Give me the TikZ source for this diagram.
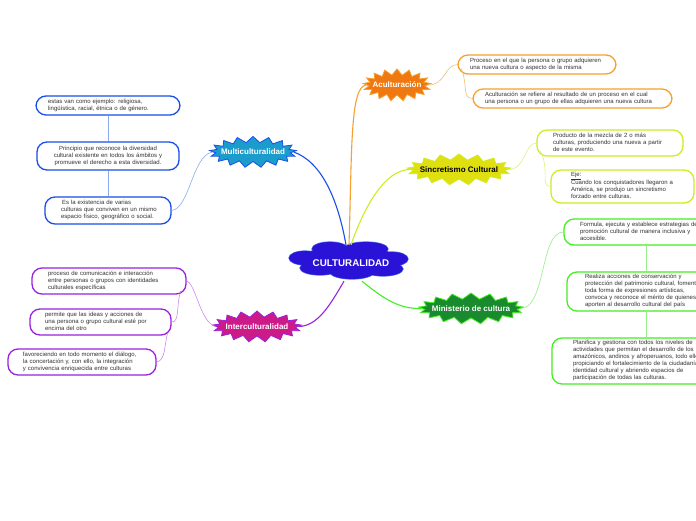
\documentclass[tikz,border=0pt]{standalone}
\usepackage{fontspec}
\setmainfont{Liberation Sans}
\usetikzlibrary{shapes.symbols}
\definecolor{cCloud}{RGB}{42,18,214}
\definecolor{cCloudO}{RGB}{70,110,230}
\definecolor{cMulti}{RGB}{26,156,204}
\definecolor{cMultiO}{RGB}{26,78,232}
\definecolor{cAcul}{RGB}{240,120,16}
\definecolor{cAculO}{RGB}{245,160,48}
\definecolor{cSinc}{RGB}{224,224,16}
\definecolor{cSincO}{RGB}{204,238,34}
\definecolor{cMin}{RGB}{26,138,46}
\definecolor{cMinO}{RGB}{68,238,34}
\definecolor{cInter}{RGB}{204,26,136}
\definecolor{cInterO}{RGB}{153,34,221}
\definecolor{lBlue}{RGB}{140,170,240}
\definecolor{lOrange}{RGB}{245,192,112}
\definecolor{lYellow}{RGB}{224,240,128}
\definecolor{lGreen}{RGB}{150,238,136}
\definecolor{lPurple}{RGB}{204,136,238}
\definecolor{txt}{RGB}{50,50,50}
\newcommand{\leftlines}[1]{\begin{tabular}{@{}l@{}}#1\end{tabular}}
\newcommand{\centerlines}[1]{\begin{tabular}{@{}c@{}}#1\end{tabular}}
\begin{document}
\begin{tikzpicture}[x=1pt,y=-1pt,
  burst/.style={starburst, starburst points=17, starburst point height=6pt, random starburst=0,
     line width=0.8pt, inner sep=0pt},
  blabel/.style={font=\fontsize{8}{9}\selectfont\bfseries, text=white, inner sep=0pt},
  leaf/.style={rounded corners=10pt, line width=1.3pt, fill=white, text=txt,
     font=\fontsize{6}{7}\selectfont, align=left, inner ysep=0pt},
  main/.style={line width=1.1pt},
  sub/.style={line width=0.6pt}
]
\useasboundingbox (0,0) rectangle (696,520);
\clip (0,0) rectangle (696,520);
\fill[white] (0,0) rectangle (696,520);

% central cloud
\foreach \cx/\cy/\rx/\ry in {330/249/18/7, 366/249/22/7, 305/258/16/7, 392/259/16/7, 320/268/20/7, 352/272/22/7, 383/269/20/7, 349/260/48/14}
  \draw[cCloudO, line width=1.2pt] (\cx,\cy) ellipse [x radius=\rx, y radius=\ry];
\foreach \cx/\cy/\rx/\ry in {330/249/18/7, 366/249/22/7, 305/258/16/7, 392/259/16/7, 320/268/20/7, 352/272/22/7, 383/269/20/7, 349/260/48/14}
  \fill[cCloud] (\cx,\cy) ellipse [x radius=\rx, y radius=\ry];
\node[text=white, font=\fontsize{9.8}{11}\selectfont\bfseries, inner sep=0pt,
      minimum width=116pt, minimum height=36pt] (cult) at (351,263) {CULTURALIDAD};

% main topics
\node[burst, fill=cMulti, draw=cMultiO, minimum width=87pt, minimum height=31pt] (multi) at (253,152) {};
\node[blabel] (multiT) at (multi.center) {Multiculturalidad};
\node[burst, fill=cAcul, draw=cAculO, minimum width=68pt, minimum height=32pt] (acul) at (397,85) {};
\node[blabel] (aculT) at (acul.center) {Aculturación};
\node[burst, fill=cSinc, draw=cSincO, minimum width=104pt, minimum height=31pt] (sinc) at (459,169.5) {};
\node[blabel, text=black] (sincT) at (sinc.center) {Sincretismo Cultural};
\node[burst, fill=cMin, draw=cMinO, minimum width=105pt, minimum height=31pt] (mini) at (471,308.5) {};
\node[blabel] (miniT) at (mini.center) {Ministerio de cultura};
\node[burst, fill=cInter, draw=cInterO, minimum width=89pt, minimum height=31pt] (inter) at (257,326.5) {};
\node[blabel] (interT) at (inter.center) {Interculturalidad};

\coordinate (cB) at ([xshift=-5pt]cult.north);
\coordinate (cO) at ([xshift=-2pt]cult.north);
\coordinate (cY) at ([xshift=0pt]cult.north);
\coordinate (cG) at ([xshift=11pt]cult.south);
\coordinate (cP) at ([xshift=-7pt]cult.south);

\draw[main, cMultiO] (cB) .. controls (338,200) and (322,162) .. (multi.east);
\draw[main, cAculO] (cO) .. controls (352,150) and (350,88) .. (acul.west);
\draw[main, cSincO] (cY) .. controls (365,205) and (385,170) .. (sinc.west);
\draw[main, cMinO] (cG) .. controls (385,300) and (400,309) .. (mini.west);
\draw[main, cInterO] (cP) .. controls (330,305) and (318,326) .. (inter.east);

% Multiculturalidad leaves
\node[leaf, draw=cMultiO, minimum width=144pt, minimum height=19pt, text width=120pt, inner xsep=12pt] (mb1) at (108,105.5)
  {\leftlines{estas van como ejemplo: religiosa,\\lingüística, racial, étnica o de género.}};
\node[leaf, draw=cMultiO, minimum width=142pt, minimum height=28pt, text width=126pt, inner xsep=8pt, align=center] (mb2) at (108,156)
  {\centerlines{Principio que reconoce la diversidad\\cultural existente en todos los ámbitos y\\promueve el derecho a esta diversidad.}};
\node[leaf, draw=cMultiO, minimum width=126pt, minimum height=27pt, text width=94pt, inner xsep=16pt] (mb3) at (108,210.5)
  {\leftlines{\hspace*{1pt}Es la existencia de varias\\culturas que conviven en un mismo\\espacio físico, geográfico o social.}};
\draw[sub, lBlue] (mb1.south) -- (mb2.north);
\draw[sub, lBlue] (mb2.south) -- (mb3.north);
\draw[sub, lBlue] (multi.west) .. controls (192,156) and (190,208) .. (mb3.east);

% Aculturacion leaves
\node[leaf, draw=cAculO, minimum width=158pt, minimum height=19pt, text width=134pt, inner xsep=12pt] (ab1) at (537,64.5)
  {\leftlines{Proceso en el que la persona o grupo adquieren\\una nueva cultura o aspecto de la misma}};
\node[leaf, draw=cAculO, minimum width=199pt, minimum height=19pt, text width=175pt, inner xsep=12pt] (ab2) at (572.5,98.5)
  {\leftlines{Aculturación se refiere al resultado de un proceso en el cual\\una persona o un grupo de ellas adquieren una nueva cultura}};
\draw[sub, lOrange] (acul.east) .. controls (446,85) and (444,65) .. (ab1.west);
\draw[sub, lOrange] ([xshift=4pt,yshift=-4pt]ab1.west) .. controls (468,86) and (462,98) .. (ab2.west);

% Sincretismo leaves
\node[leaf, draw=cSincO, minimum width=146pt, minimum height=26pt, text width=114pt, inner xsep=16pt] (sb1) at (610,143)
  {\leftlines{Producto de la mezcla de 2 o más\\culturas, produciendo una nueva a partir\\de este evento.}};
\node[leaf, draw=cSincO, minimum width=143pt, minimum height=33pt, text width=103pt, inner xsep=20pt] (sb2) at (622.5,186.5)
  {\leftlines{\underline{Eje:}\\Cuando los conquistadores llegaron a\\América, se produjo un sincretismo\\forzado entre culturas.}};
\draw[sub, lYellow] (sinc.east) .. controls (526,170) and (524,143) .. (sb1.west);
\draw[sub, lYellow] ([xshift=4pt,yshift=-8pt]sb1.west) .. controls (550,170) and (540,186) .. (sb2.west);

% Ministerio leaves
\node[leaf, draw=cMinO, minimum width=180pt, minimum height=26pt, text width=148pt, inner xsep=16pt] (gb1) at (654,232)
  {\leftlines{Formula, ejecuta y establece estrategias de\\promoción cultural de manera inclusiva y\\accesible.}};
\node[leaf, draw=cMinO, minimum width=180pt, minimum height=39pt, text width=144pt, inner xsep=18pt] (gb2) at (657,291.5)
  {\leftlines{Realiza acciones de conservación y\\protección del patrimonio cultural, fomenta\\toda forma de expresiones artísticas,\\convoca y reconoce el mérito de quienes\\aporten al desarrollo cultural del país}};
\node[leaf, draw=cMinO, minimum width=190pt, minimum height=46pt, text width=148pt, inner xsep=21pt] (gb3) at (647,361)
  {\leftlines{Planifica y gestiona con todos los niveles de\\actividades que permitan el desarrollo de los\\amazónicos, andinos y afroperuanos, todo ello\\propiciando el fortalecimiento de la ciudadanía\\identidad cultural y abriendo espacios de\\participación de todas las culturas.}};
\draw[sub, lGreen] ([xshift=-8pt]gb1.south) -- ([xshift=-11pt]gb2.north);
\draw[sub, lGreen] ([xshift=-11pt]gb2.south) -- ([xshift=-1pt]gb3.north);
\draw[sub, lGreen] (mini.east) .. controls (546,308) and (540,232) .. (gb1.west);

% Interculturalidad leaves
\node[leaf, draw=cInterO, minimum width=154pt, minimum height=26pt, text width=122pt, inner xsep=16pt] (ib1) at (109,281)
  {\leftlines{proceso de comunicación e interacción\\entre personas o grupos con identidades\\culturales específicas}};
\node[leaf, draw=cInterO, minimum width=141pt, minimum height=26pt, text width=111pt, inner xsep=15pt] (ib2) at (100.5,322)
  {\leftlines{permite que las ideas y acciones de\\una persona o grupo cultural esté por\\encima del otro}};
\node[leaf, draw=cInterO, minimum width=148pt, minimum height=26pt, text width=118pt, inner xsep=15pt] (ib3) at (82,362)
  {\leftlines{favoreciendo en todo momento el diálogo,\\la concertación y, con ello, la integración\\y convivencia enriquecida entre culturas}};
\draw[sub, lPurple] (inter.west) .. controls (200,322) and (196,284) .. (ib1.east);
\draw[sub, lPurple] ([xshift=-6pt,yshift=-10pt]ib1.east) .. controls (176,305) and (180,322) .. (ib2.east);
\draw[sub, lPurple] ([xshift=-4pt,yshift=-11pt]ib2.east) .. controls (164,345) and (166,360) .. (ib3.east);
\end{tikzpicture}
\end{document}
